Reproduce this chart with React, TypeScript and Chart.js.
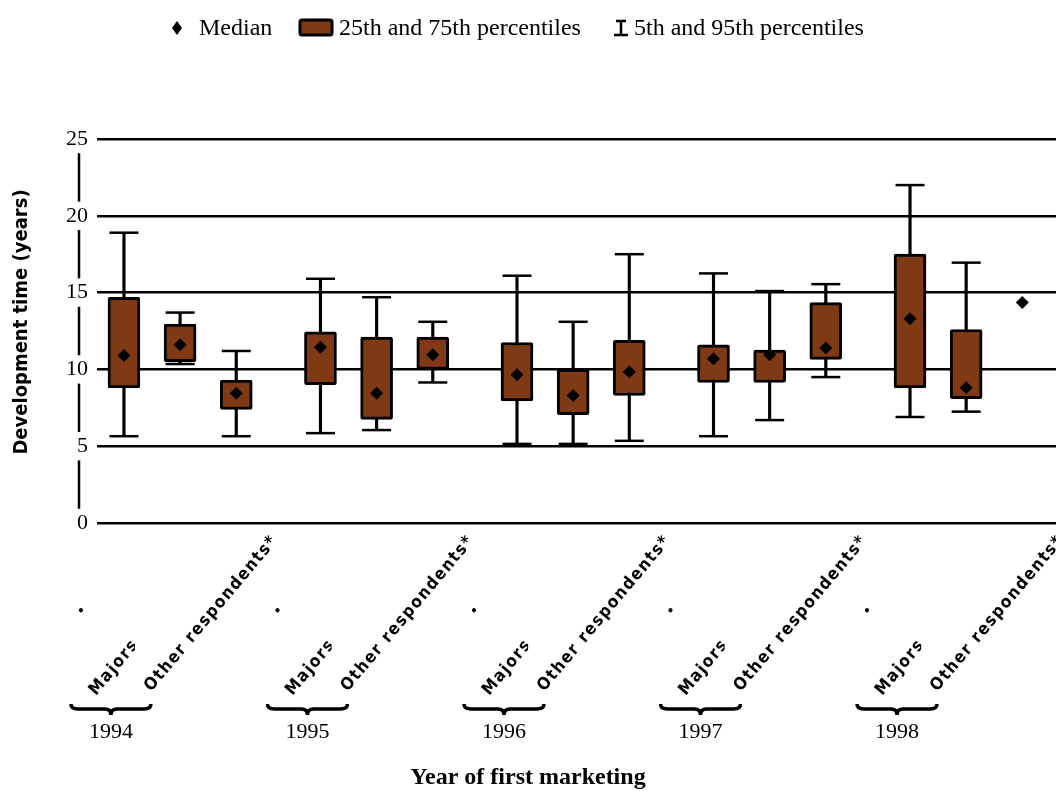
import React, { useEffect, useRef } from 'react';
import { Chart, registerables } from 'chart.js';

Chart.register(...registerables);

// ---- data ----
const years = ['1994', '1995', '1996', '1997', '1998'];
const groupLabels = ['•', 'Majors', 'Other respondents*'];
const p95: (number | null)[] = [18.9, 13.7, 11.2, 15.9, 14.7, 13.1, 16.1, 13.1, 17.5, 16.25, 15.1, 15.55, 22.0, 16.95, null];
const q3: (number | null)[] = [14.7, 12.95, 9.3, 12.45, 12.1, 12.1, 11.75, 10.0, 11.9, 11.6, 11.25, 14.35, 17.5, 12.6, null];
const median: (number | null)[] = [10.9, 11.6, 8.45, 11.45, 8.45, 10.95, 9.65, 8.3, 9.85, 10.7, 10.95, 11.4, 13.3, 8.8, 14.35];
const q1: (number | null)[] = [8.8, 10.5, 7.4, 9.0, 6.75, 10.0, 7.95, 7.05, 8.3, 9.15, 9.15, 10.65, 8.8, 8.1, null];
const p5: (number | null)[] = [5.65, 10.35, 5.65, 5.85, 6.05, 9.15, 5.15, 5.15, 5.35, 5.65, 6.7, 9.5, 6.9, 7.25, null];
const yTicks = [0, 5, 10, 15, 20, 25];
const yTitle = 'Development time (years)';
const xTitle = 'Year of first marketing';
const legendLabels = ['Median', '25th and 75th percentiles', '5th and 95th percentiles'];

// ---- styles ----
const BROWN = '#7f3915';
const SERIF = '"Liberation Serif", "Times New Roman", Times, serif';
const COND = '"DejaVu Sans Condensed", "DejaVu Sans", sans-serif';

// x position of each box: groups of three, with a gap between years
const positions = years.flatMap((_, g) => groupLabels.map((_, k) => g * 3.5 + k));

const idx = positions.map((_, i) => i);

const decorPlugin = {
  id: 'decor',
  beforeDraw(chart: any) {
    const { ctx, scales } = chart;
    const y = scales.y;
    ctx.save();
    ctx.strokeStyle = '#000';
    ctx.lineWidth = 2.5;
    ctx.beginPath();
    ctx.moveTo(79, y.getPixelForValue(yTicks[yTicks.length - 1]));
    ctx.lineTo(79, y.getPixelForValue(yTicks[0]));
    ctx.stroke();
    ctx.restore();
  },
  afterDraw(chart: any) {
    const { ctx, scales } = chart;
    const x = scales.x;
    ctx.save();
    ctx.fillStyle = '#000';
    ctx.strokeStyle = '#000';

    // ---- legend ----
    const ly = 28;
    ctx.beginPath();
    ctx.moveTo(177, ly - 7);
    ctx.lineTo(182, ly);
    ctx.lineTo(177, ly + 7);
    ctx.lineTo(172, ly);
    ctx.closePath();
    ctx.fill();
    ctx.font = `24px ${SERIF}`;
    ctx.textBaseline = 'middle';
    ctx.textAlign = 'left';
    ctx.fillText(legendLabels[0], 199, ly + 1);
    ctx.beginPath();
    (ctx as any).roundRect(300, 20, 32, 15, 2);
    ctx.fillStyle = BROWN;
    ctx.fill();
    ctx.lineWidth = 3;
    ctx.stroke();
    ctx.fillStyle = '#000';
    ctx.fillText(legendLabels[1], 339, ly + 1);
    ctx.lineWidth = 2.5;
    ctx.beginPath();
    ctx.moveTo(621, ly - 7);
    ctx.lineTo(621, ly + 7);
    ctx.moveTo(616, ly - 7);
    ctx.lineTo(626, ly - 7);
    ctx.moveTo(614, ly + 7);
    ctx.lineTo(628, ly + 7);
    ctx.stroke();
    ctx.fillText(legendLabels[2], 634, ly + 1);

    // ---- y title ----
    ctx.save();
    ctx.font = `bold 20px ${COND}`;
    ctx.textAlign = 'center';
    ctx.textBaseline = 'middle';
    ctx.translate(22, 322);
    ctx.rotate(-Math.PI / 2);
    ctx.fillText(yTitle, 0, 0);
    ctx.restore();

    // ---- rotated category labels ----
    const ang = (-50 * Math.PI) / 180;
    positions.forEach((pos, i) => {
      const px = x.getPixelForValue(pos);
      const k = i % groupLabels.length;
      ctx.save();
      if (k === 0) {
        ctx.font = `bold 13px ${COND}`;
        ctx.textAlign = 'center';
        ctx.textBaseline = 'middle';
        ctx.fillText(groupLabels[0], px - 43, 612);
      } else {
        ctx.font = `bold 17px ${COND}`;
        (ctx as any).letterSpacing = '1.5px';
        ctx.textAlign = 'left';
        ctx.textBaseline = 'alphabetic';
        if (k === 1) {
          ctx.beginPath();
          ctx.rect(0, 0, px - 45, chart.height);
          ctx.clip();
          ctx.translate(px - 84, 696);
        } else {
          ctx.translate(px - 85, 692);
        }
        ctx.rotate(ang);
        ctx.fillText(groupLabels[k], 0, 0);
      }
      ctx.restore();
    });

    // ---- braces and year labels ----
    years.forEach((yr, g) => {
      const cx = x.getPixelForValue(positions[g * groupLabels.length]) - 13;
      const hw = 40;
      const y0 = 704, y1 = 709, y2 = 715;
      ctx.lineWidth = 3.5;
      ctx.beginPath();
      ctx.moveTo(cx - hw, y0);
      ctx.quadraticCurveTo(cx - hw, y1, cx - hw + 7, y1);
      ctx.lineTo(cx - 6, y1);
      ctx.quadraticCurveTo(cx, y1, cx, y2);
      ctx.quadraticCurveTo(cx, y1, cx + 6, y1);
      ctx.lineTo(cx + hw - 7, y1);
      ctx.quadraticCurveTo(cx + hw, y1, cx + hw, y0);
      ctx.stroke();
      ctx.font = `22px ${SERIF}`;
      ctx.textAlign = 'center';
      ctx.textBaseline = 'middle';
      ctx.fillText(yr, cx, 732);
    });

    // ---- x title ----
    ctx.font = `bold 24px ${SERIF}`;
    ctx.textAlign = 'center';
    ctx.textBaseline = 'middle';
    ctx.fillText(xTitle, chart.width / 2, 778);
    ctx.restore();
  },
};

export default function App() {
  const ref = useRef<HTMLCanvasElement>(null);
  useEffect(() => {
    if (!ref.current) return;
    const has = (i: number) => q1[i] != null && q3[i] != null;
    const hasW = (i: number) => p5[i] != null && p95[i] != null;
    const chart = new Chart(ref.current, {
      type: 'bar',
      data: {
        datasets: [
          {
            type: 'scatter',
            label: 'Median',
            data: idx.filter((i) => median[i] != null).map((i) => ({ x: positions[i], y: median[i] as number })),
            pointStyle: 'rectRot',
            pointRadius: 6.5,
            backgroundColor: '#000',
            borderColor: '#000',
            borderWidth: 0,
            order: 0,
          } as any,
          {
            type: 'bar',
            label: '25th and 75th percentiles',
            data: idx.filter(has).map((i) => ({ x: positions[i], y: [q1[i], q3[i]] })),
            backgroundColor: BROWN,
            borderColor: '#000',
            borderWidth: 3,
            borderSkipped: false,
            borderRadius: 2,
            barThickness: 32,
            grouped: false,
            order: 1,
          } as any,
          {
            type: 'scatter',
            label: 'caps',
            data: idx.filter(hasW).flatMap((i) => [
              { x: positions[i], y: p5[i] as number },
              { x: positions[i], y: p95[i] as number },
            ]),
            pointStyle: 'line',
            pointRadius: 14.5,
            borderColor: '#000',
            backgroundColor: '#000',
            pointBorderWidth: 2.5,
            borderWidth: 2.5,
            order: 2,
          } as any,
          {
            type: 'bar',
            label: '5th and 95th percentiles',
            data: idx.filter(hasW).map((i) => ({ x: positions[i], y: [p5[i], p95[i]] })),
            backgroundColor: '#000',
            borderWidth: 0,
            barThickness: 2.5,
            grouped: false,
            order: 3,
          } as any,
        ],
      },
      options: {
        responsive: false,
        animation: false,
        layout: { autoPadding: false, padding: { left: 0, right: 0, top: 139, bottom: 268 } },
        plugins: { legend: { display: false }, tooltip: { enabled: false } },
        scales: {
          x: { type: 'linear', min: -0.48, max: 16.6, offset: false, display: false },
          y: {
            type: 'linear',
            min: yTicks[0],
            max: yTicks[yTicks.length - 1],
            afterFit: (s: any) => {
              s.width = 97;
            },
            ticks: {
              stepSize: 5,
              color: '#000',
              font: { family: SERIF, size: 22 },
              padding: 9,
              showLabelBackdrop: true,
              backdropColor: '#fff',
              backdropPadding: { top: 1, bottom: 1, left: 1, right: 1 },
            },
            grid: { color: '#000', lineWidth: 2.5, drawTicks: false },
            border: { display: false },
            title: { display: false },
          },
        },
      } as any,
      plugins: [decorPlugin],
    });
    return () => chart.destroy();
  }, []);
  return (
    <div style={{ position: 'absolute', left: 0, top: 0, width: 1056, height: 791, background: '#fff' }}>
      <canvas ref={ref} width={1056} height={791} style={{ display: 'block' }} />
    </div>
  );
}
